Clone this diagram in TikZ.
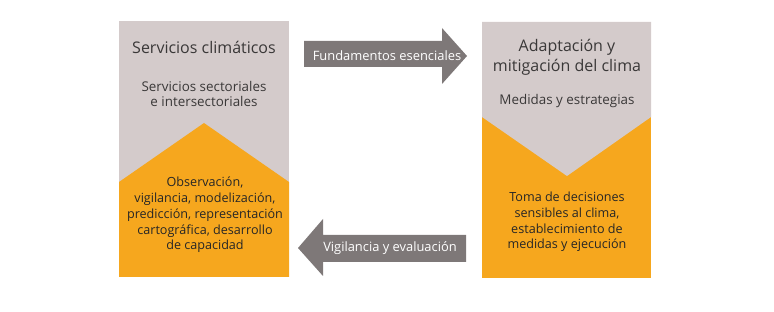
\documentclass[tikz,border=0pt]{standalone}
\usepackage{fontspec}
\setmainfont{Open Sans}
\definecolor{boxgrey}{HTML}{D4CBCB}
\definecolor{boxorange}{HTML}{F6A71E}
\definecolor{arrowgrey}{HTML}{7E7878}
\definecolor{txtgrey}{HTML}{3A3838}
\tikzset{
  titletext/.style={text=txtgrey,align=center,font=\fontsize{16}{20}\selectfont},
  subtext/.style={text=txtgrey,align=center,font=\fontsize{13.4}{15}\selectfont},
  ortext/.style={text=black!85,align=center,font=\fontsize{12.6}{15.8}\selectfont},
  arrowtext/.style={text=white,font=\fontsize{12.9}{14}\selectfont}
}
\begin{document}
\begin{tikzpicture}[x=1pt,y=-1pt]
  \useasboundingbox (0,0) rectangle (774,312);
  % left box
  \fill[boxgrey] (119,21) rectangle (289,277);
  \fill[boxorange] (119,277) -- (119,182) -- (204,123) -- (289,182) -- (289,277) -- cycle;
  \node[titletext] (svc) at (204,47) {Servicios climáticos};
  \node[subtext] (sect) at (204,94) {Servicios sectoriales\\e intersectoriales};
  \node[ortext] (obs) at (205,215) {Observación,\\vigilancia, modelización,\\predicción, representación\\cartográfica, desarrollo\\de capacidad};
  % right box
  \fill[boxorange] (482,22) rectangle (651,278);
  \fill[boxgrey] (482,22) -- (482,117) -- (567,176) -- (651,117) -- (651,22) -- cycle;
  \node[titletext] (adap) at (567,57) {Adaptación y\\mitigación del clima};
  \node[subtext] (med) at (567,101) {Medidas y estrategias};
  \node[ortext] (toma) at (567,222) {Toma de decisiones\\sensibles al clima,\\establecimiento de\\medidas y ejecución};
  % arrows
  \fill[arrowgrey] (304,41) -- (442,41) -- (442,28) -- (467,56) -- (442,84) -- (442,67) -- (304,67) -- cycle;
  \node[arrowtext] (fund) at (387,56) {Fundamentos esenciales};
  \fill[arrowgrey] (466,235) -- (323,235) -- (323,219) -- (298,248) -- (323,276) -- (323,262) -- (466,262) -- cycle;
  \node[arrowtext] (vig) at (390,248) {Vigilancia y evaluación};
\end{tikzpicture}
\end{document}
